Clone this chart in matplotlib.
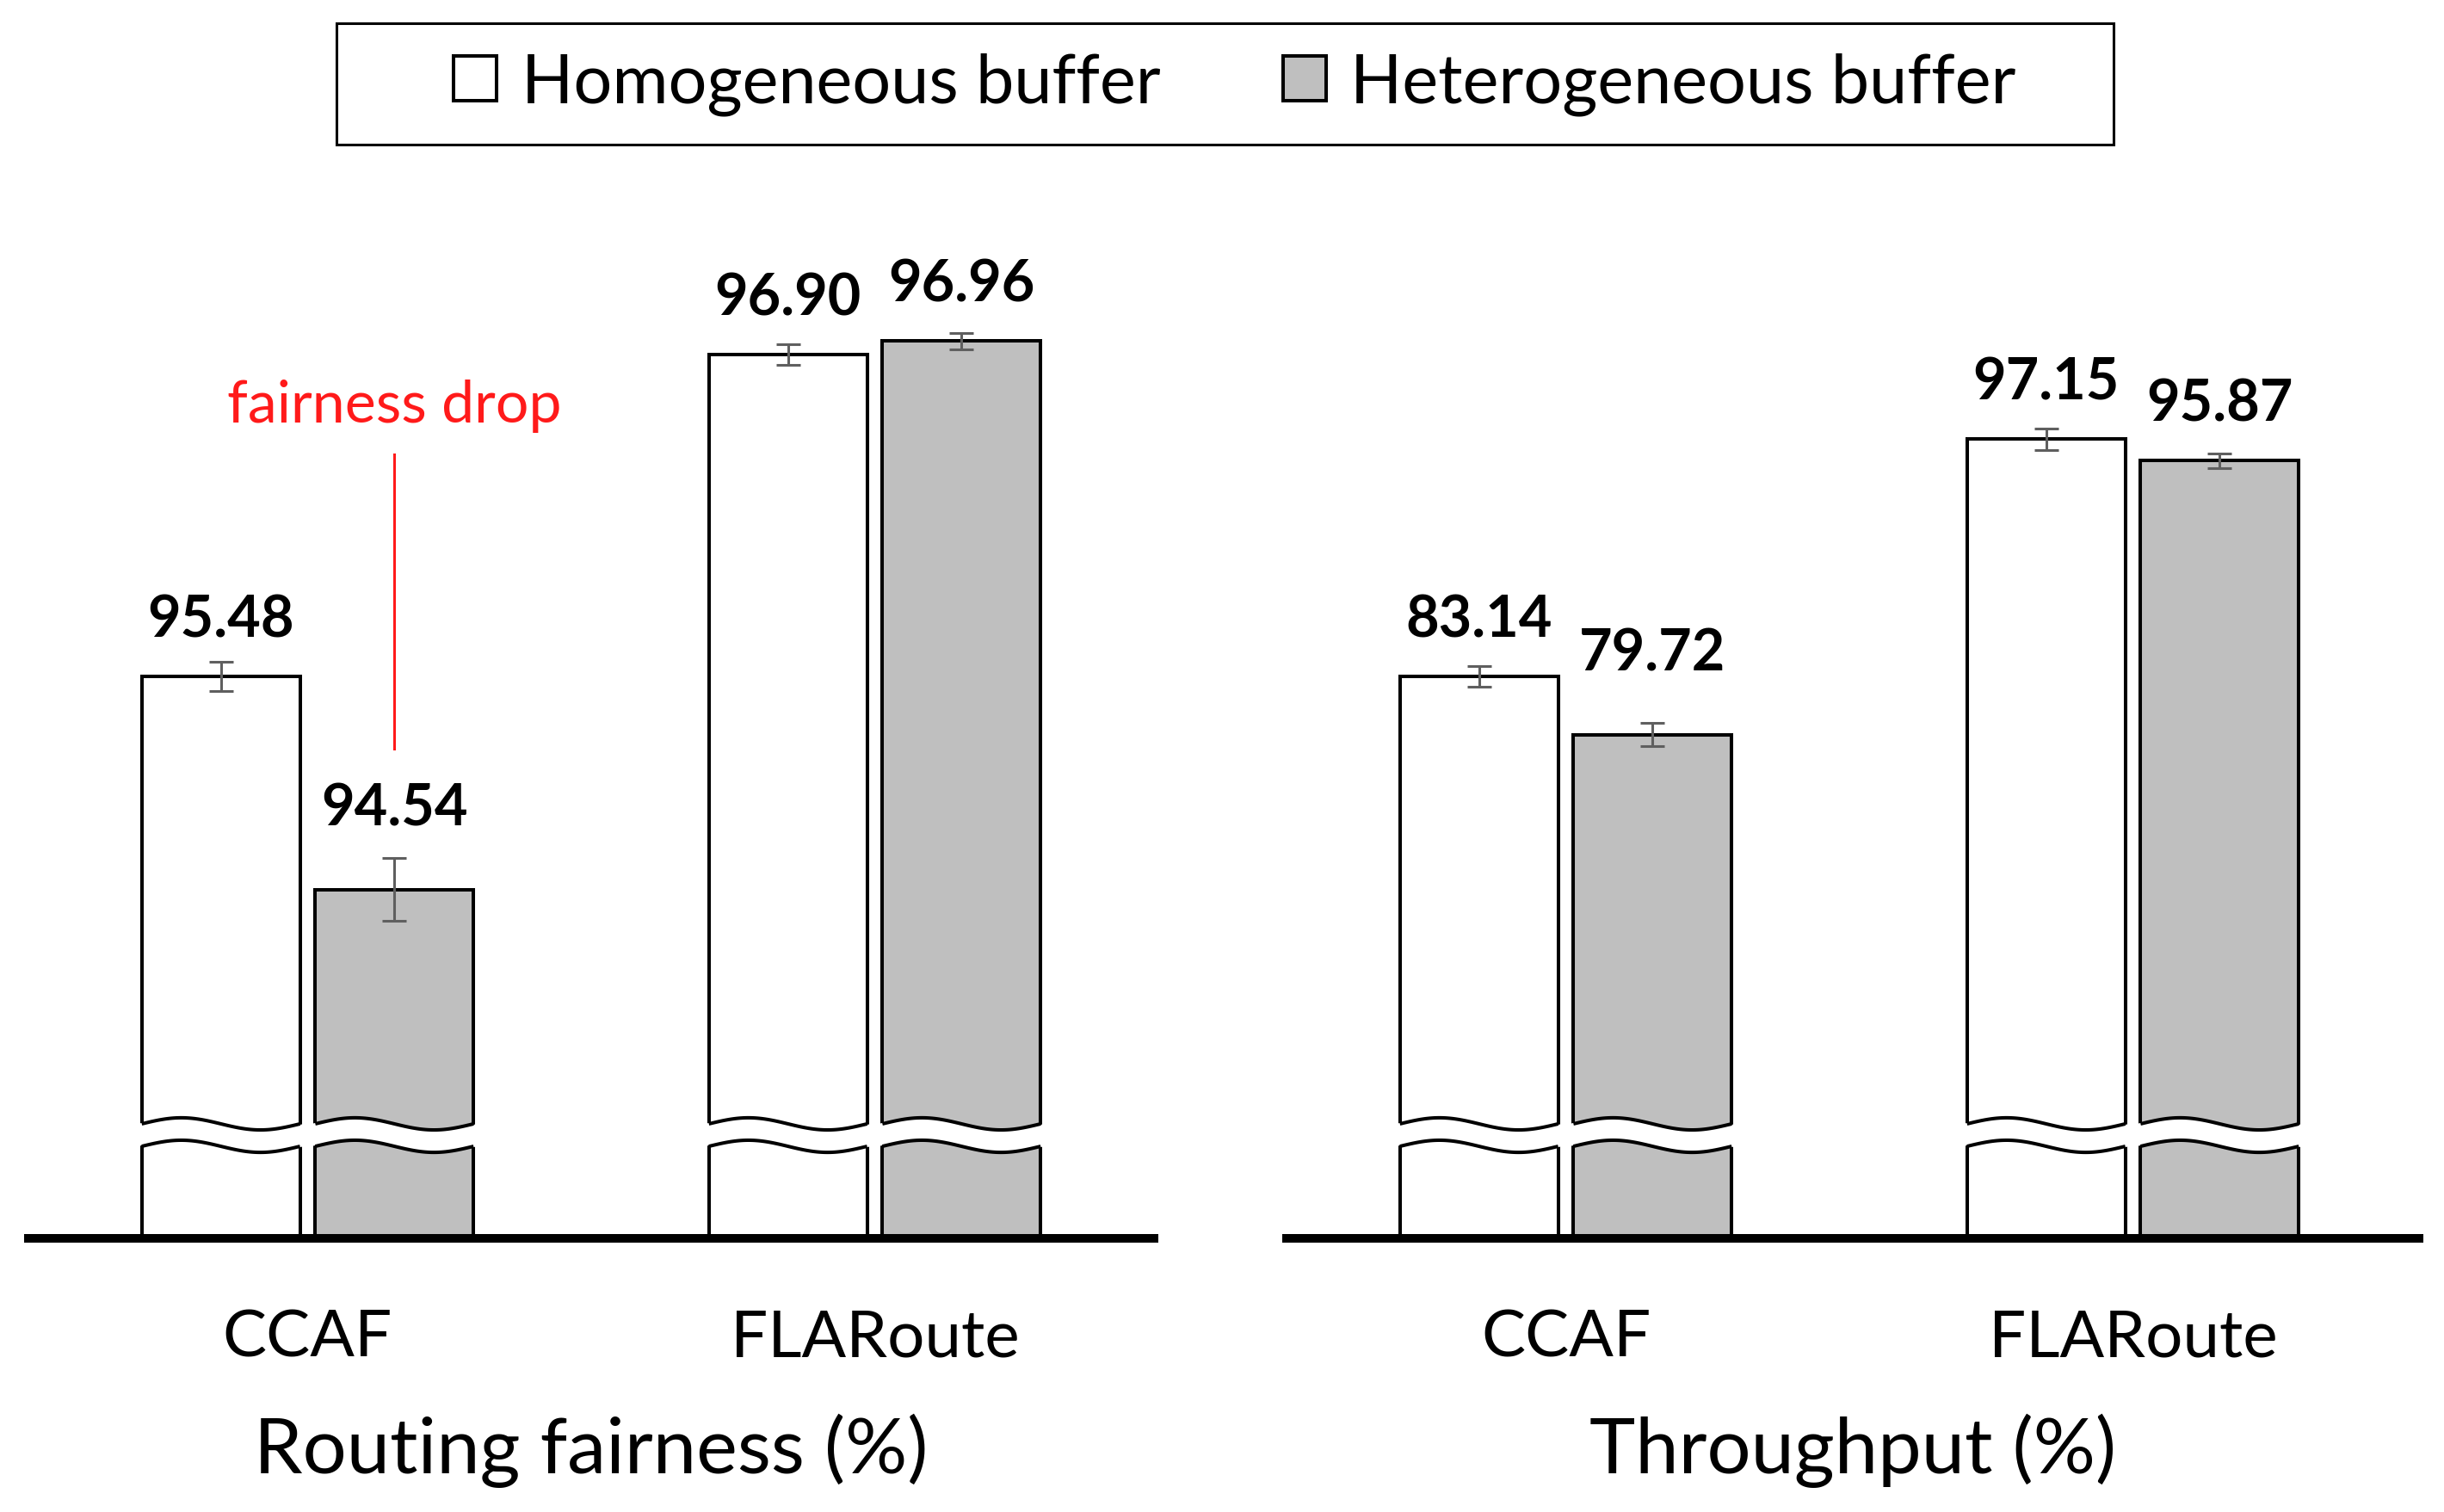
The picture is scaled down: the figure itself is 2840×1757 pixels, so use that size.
import matplotlib
matplotlib.use("Agg")
import matplotlib.pyplot as plt
import matplotlib.patches as patches
import matplotlib.transforms as mtransforms
import numpy as np

plt.rcParams['font.family'] = ['Lato', 'DejaVu Sans']

# data
methods = ["CCAF", "FLARoute"]
series = ["Homogeneous buffer", "Heterogeneous buffer"]

fair_homo = [95.48, 96.90]
fair_hetero = [94.54, 96.96]
fair_homo_err = [0.065, 0.045]
fair_hetero_err = [0.14, 0.035]

thr_homo = [83.14, 97.15]
thr_hetero = [79.72, 95.87]
thr_homo_err = [0.60, 0.63]
thr_hetero_err = [0.68, 0.45]

W, H = 2840, 1757
fig = plt.figure(figsize=(W / 100, H / 100), dpi=100)


def px_axes(x0, x1, y_top, y_bot):
    return fig.add_axes([x0 / W, 1 - y_bot / H, (x1 - x0) / W, (y_bot - y_top) / H])


bw = 0.279
off = 0.153
edge_lw = 2.9
err_color = '#5f5f5f'
gray = '#bfbfbf'


def draw_break(ax, centers):
    # white gap with wavy edges to mark the broken y axis
    trans = mtransforms.blended_transform_factory(ax.transData, ax.transAxes)
    y_up, y_lo, amp, pad = 0.1168, 0.0939, 0.0062, 0.007
    t = np.linspace(0, 1, 80)
    wave = amp * np.sin(2 * np.pi * t)
    for xc in centers:
        xs = xc - bw / 2 + t * bw
        xp = xc - bw / 2 - pad + t * (bw + 2 * pad)
        verts = np.column_stack([np.r_[xp, xp[::-1]],
                                 np.r_[y_lo + wave, (y_up + wave)[::-1]]])
        ax.add_patch(patches.Polygon(verts, closed=True, facecolor='white',
                                     edgecolor='none', transform=trans, zorder=4))
        ax.plot(xs, y_up + wave, color='black', lw=edge_lw, transform=trans,
                zorder=5, solid_capstyle='butt')
        ax.plot(xs, y_lo + wave, color='black', lw=edge_lw, transform=trans,
                zorder=5, solid_capstyle='butt')


def draw_panel(ax, homo, hetero, homo_err, hetero_err, ylim, xlim, title):
    x = np.arange(len(methods))
    ax.set_xlim(*xlim)
    ax.set_ylim(*ylim)
    base = ylim[0]
    b1 = ax.bar(x - off, np.array(homo) - base, bottom=base, width=bw,
                color='white', edgecolor='black', lw=edge_lw, zorder=2)
    b2 = ax.bar(x + off, np.array(hetero) - base, bottom=base, width=bw,
                color=gray, edgecolor='black', lw=edge_lw, zorder=2)
    for xs, vals, errs in [(x - off, homo, homo_err), (x + off, hetero, hetero_err)]:
        ax.errorbar(xs, vals, yerr=errs, fmt='none', ecolor=err_color,
                    elinewidth=2.2, capsize=10, capthick=2.2, zorder=3)

    # value labels; the CCAF heterogeneous label sits a bit higher
    lifts = [[0, 0], [20, 0]]
    for k, (xs, vals) in enumerate([(x - off, homo), (x + off, hetero)]):
        for i, (xi, v) in enumerate(zip(xs, vals)):
            ax.annotate(f"{v:.2f}", xy=(xi, v), xytext=(0, 33 + lifts[k][i]),
                        textcoords='offset points', ha='center', va='baseline',
                        fontsize=48, fontweight='bold')

    draw_break(ax, np.r_[x - off, x + off])

    ax.set_xticks(x, methods, fontsize=55)
    ax.tick_params(axis='x', length=0, pad=99)
    plt.setp(ax.get_xticklabels(), va='baseline')
    ax.set_yticks([])
    for s in ['top', 'left', 'right']:
        ax.spines[s].set_visible(False)
    ax.spines['bottom'].set_linewidth(7.2)
    ax.spines['bottom'].set_capstyle('butt')
    ax.spines['bottom'].set_zorder(6)
    ax.text(0.5, -273 / 1139, title, transform=ax.transAxes, ha='center',
            va='baseline', fontsize=65)
    return b1, b2


ax_l = px_axes(28, 1346, 300, 1439)
ax_r = px_axes(1490, 2816, 300, 1439)

b1, b2 = draw_panel(ax_l, fair_homo, fair_hetero, fair_homo_err, fair_hetero_err,
                    (93, 97.326), (-0.5, 1.5), "Routing fairness (%)")
draw_panel(ax_r, thr_homo, thr_hetero, thr_homo_err, thr_hetero_err,
           (50, 107.82), (-0.5, 1.5121), "Throughput (%)")

# annotation over the CCAF heterogeneous bar
xa = 0 + off
ax_l.text(xa, 96.6, "fairness drop", color='#ff1a1a', ha='center',
          va='baseline', fontsize=49)
ax_l.plot([xa, xa], [95.16, 96.46], color='#ff1a1a', lw=2.2)

# legend with a plain rectangular frame
fig.legend(handles=[b1, b2], labels=series, loc='center',
           bbox_to_anchor=(1435 / W, 1 - 98 / H), ncol=2, frameon=False,
           fontsize=57, handlelength=0.63, handleheight=0.63,
           handletextpad=0.36, columnspacing=1.8)
fig.add_artist(patches.Rectangle((391 / W, 1 - 168 / H), (2456 - 391) / W, 141 / H,
                                 transform=fig.transFigure, fill=False,
                                 edgecolor='black', lw=2.2))

fig.savefig("out.png", dpi=100)
